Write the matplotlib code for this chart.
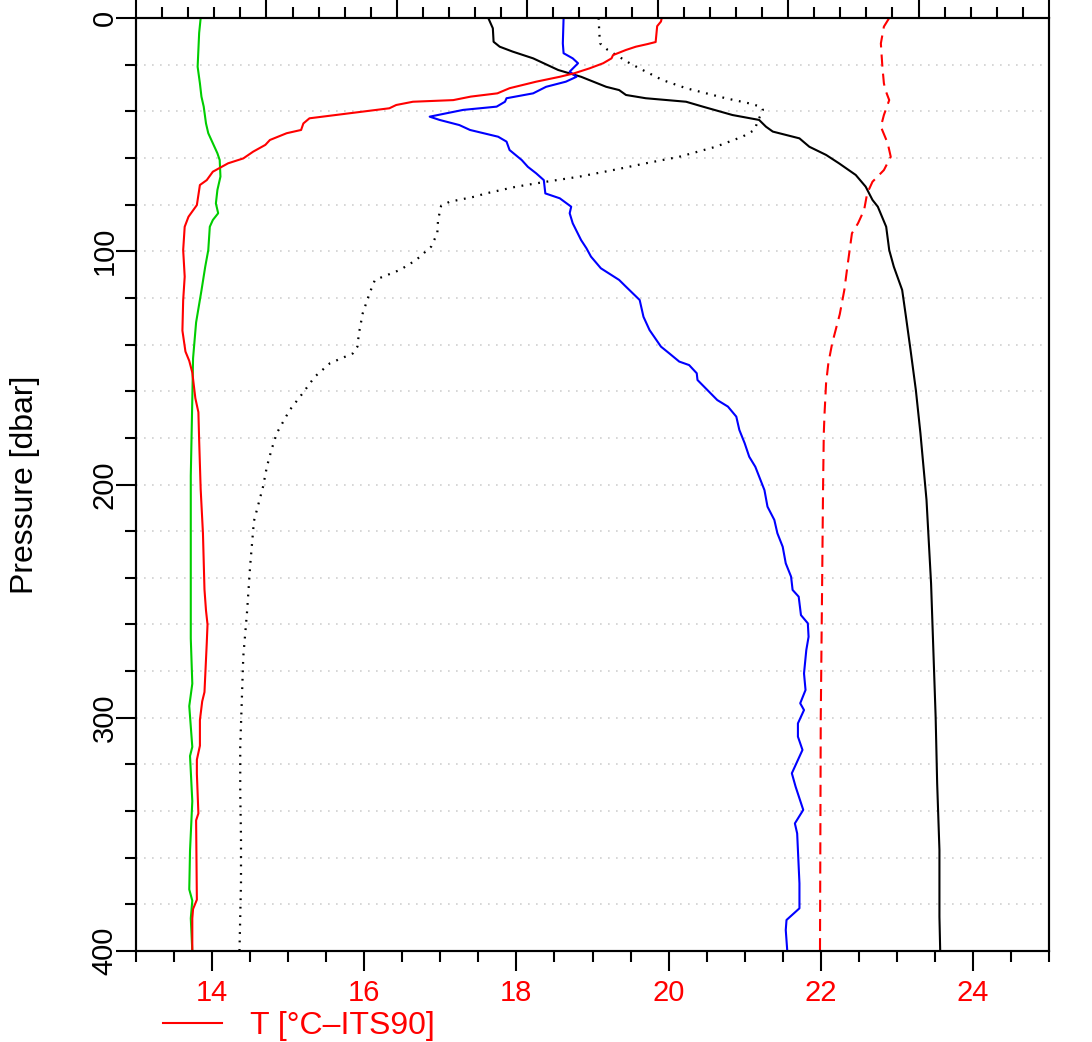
import matplotlib
matplotlib.use('Agg')
import matplotlib.pyplot as plt
from matplotlib.ticker import MultipleLocator, NullFormatter

plt.rcParams['font.family'] = ['Liberation Sans', 'DejaVu Sans']

# temperature profile (bottom axis)
p_temp = [0, 1.5, 3.5, 10.3, 11.2, 12.3, 13.7, 15.9, 17.3, 19.4, 21.6, 23.7, 25.2, 27.3, 30.1, 32.3,
          33.7, 35.2, 35.9, 37.3, 38.7, 43.0, 45.2, 48.0, 49.4, 52.3, 54.4, 57.3, 60.2, 62.3, 65.9,
          69.5, 71.6, 80.2, 85.2, 89.5, 99.5, 110.9, 121, 134, 143, 147, 152, 163, 169, 181, 202,
          221, 245, 254, 260, 268, 289, 293, 301, 312, 318, 324, 341, 344, 378, 382, 386, 400]
temp = [19.91, 19.90, 19.85, 19.83, 19.72, 19.57, 19.44, 19.27, 19.25, 19.14, 18.96, 18.76, 18.57,
        18.26, 17.91, 17.75, 17.40, 17.17, 16.64, 16.42, 16.33, 15.28, 15.20, 15.17, 14.98, 14.76,
        14.70, 14.54, 14.41, 14.21, 14.01, 13.93, 13.84, 13.80, 13.69, 13.64, 13.62, 13.64, 13.62,
        13.61, 13.65, 13.70, 13.74, 13.78, 13.82, 13.83, 13.85, 13.88, 13.90, 13.92, 13.94, 13.93,
        13.90, 13.87, 13.84, 13.84, 13.80, 13.80, 13.82, 13.79, 13.80, 13.75, 13.74, 13.74]

# the other profiles, as positions read along the bottom scale
p_green = [0, 6.4, 13.7, 20.9, 28, 33.7, 38, 45.2, 49.4, 53.7, 58, 60.9, 68, 73.7, 79.5, 83.7, 86.6,
           89.5, 99.5, 106.6, 116.9, 130.5, 145.9, 163.4, 196.3, 235, 266, 285.4, 295, 312.5, 316.4,
           335.8, 357, 373.6, 378.4, 386, 400]
green = [13.85, 13.83, 13.82, 13.81, 13.84, 13.86, 13.89, 13.92, 13.95, 14.01, 14.07, 14.10, 14.11,
         14.07, 14.05, 14.08, 14.01, 13.97, 13.95, 13.91, 13.86, 13.79, 13.75, 13.74, 13.72, 13.72,
         13.72, 13.74, 13.70, 13.74, 13.71, 13.74, 13.71, 13.70, 13.74, 13.72, 13.74]

p_blue = [0, 10.9, 15.1, 17.3, 19.4, 23.0, 25.2, 27.3, 29.5, 32.3, 34.4, 35.9, 38.0, 39.4, 42.3, 43.7,
          45.9, 48.0, 50.9, 53.0, 56.6, 60.9, 63.8, 66.6, 69.5, 75.2, 77.3, 80.9, 83.7, 88.0, 95.2,
          98.7, 102.3, 107.3, 112.3, 115.2, 120.9, 128.1, 133.8, 140.9, 143.8, 147.3, 148.8, 152.3,
          155.2, 159.5, 163.8, 166.6, 170.9, 176.6, 182.3, 188.1, 192.4, 202.4, 209.5, 215.2, 220.9,
          226.7, 233.8, 239.5, 245.2, 248.1, 256, 259.5, 265.3, 271, 281, 288.1, 293.8, 296.7, 302.4,
          308.1, 313.8, 323.8, 329.6, 339.5, 345.3, 349.6, 371, 381.7, 386.7, 391, 400]
blue = [18.62, 18.61, 18.62, 18.74, 18.81, 18.70, 18.79, 18.65, 18.39, 18.22, 17.87, 17.85, 17.74,
        17.30, 16.86, 16.99, 17.25, 17.39, 17.76, 17.87, 17.91, 18.07, 18.15, 18.26, 18.36, 18.38,
        18.57, 18.72, 18.70, 18.74, 18.85, 18.92, 18.98, 19.11, 19.35, 19.44, 19.62, 19.67, 19.75,
        19.90, 20.01, 20.14, 20.27, 20.37, 20.38, 20.51, 20.64, 20.78, 20.89, 20.93, 21.00, 21.06,
        21.14, 21.26, 21.30, 21.39, 21.43, 21.50, 21.54, 21.61, 21.63, 21.71, 21.74, 21.83, 21.84,
        21.81, 21.78, 21.80, 21.73, 21.78, 21.70, 21.70, 21.76, 21.62, 21.67, 21.77, 21.66, 21.69,
        21.72, 21.72, 21.55, 21.54, 21.56]

p_black = [0, 4.4, 10.2, 12.3, 14.4, 17.3, 22.3, 25.2, 29.5, 30.9, 33.0, 34.4, 35.9, 38.0, 41.6, 43.7,
           46.6, 48.7, 51.6, 55.2, 58.7, 62.3, 67.3, 72.3, 78.0, 80.9, 89.5, 99.5, 106.6, 116.6,
           128.1, 142.3, 159.5, 178, 206.6, 242.4, 271, 299.6, 328.1, 356.7, 385.3, 400]
black = [17.63, 17.69, 17.70, 17.78, 17.95, 18.22, 18.55, 18.85, 19.18, 19.35, 19.44, 19.70, 20.23,
         20.45, 20.84, 21.19, 21.28, 21.37, 21.72, 21.85, 22.07, 22.24, 22.46, 22.59, 22.68, 22.75,
         22.86, 22.90, 22.96, 23.07, 23.12, 23.18, 23.25, 23.31, 23.39, 23.45, 23.48, 23.51, 23.53,
         23.56, 23.56, 23.57]

p_dash = [0, 3.7, 10.9, 20.9, 28, 30.9, 35.2, 41.6, 46.6, 53.7, 59.5, 65.2, 70.2, 75.2, 82.3, 88,
          92.3, 106.6, 116.6, 127, 139.5, 148, 156.6, 169.5, 178, 202.4, 236.7, 300, 400]
dash = [22.90, 22.83, 22.79, 22.81, 22.83, 22.85, 22.90, 22.83, 22.79, 22.88, 22.92, 22.83, 22.68,
        22.61, 22.57, 22.49, 22.41, 22.35, 22.31, 22.25, 22.15, 22.10, 22.07, 22.05, 22.04, 22.03,
        22.02, 22.00, 21.99]

p_dot = [0, 6.6, 10.9, 13.7, 19.4, 22.3, 26.6, 30.1, 34.4, 36.6, 38.0, 39.4, 44.4, 48.0, 50.9, 55.2,
         59.5, 62.3, 65.2, 68.0, 70.2, 72.3, 75.2, 76.6, 78.8, 80.6, 86.6, 92.3, 98.0, 103.8, 108.0,
         112.3, 118.0, 126.6, 135.2, 140.9, 143.8, 148.0, 153.8, 160.9, 168.1, 178.0, 185.2, 192.4,
         200.9, 215.7, 235.0, 254.4, 273.8, 293.2, 312.6, 331.9, 351.3, 370.7, 400]
dot = [19.08, 19.09, 19.10, 19.20, 19.49, 19.66, 19.92, 20.23, 20.75, 21.06, 21.21, 21.24, 21.17,
       21.13, 20.97, 20.62, 20.14, 19.70, 19.27, 18.83, 18.39, 18.00, 17.60, 17.45, 17.12, 17.01,
       16.97, 16.96, 16.88, 16.68, 16.47, 16.14, 16.07, 15.98, 15.93, 15.91, 15.85, 15.55, 15.35,
       15.19, 15.02, 14.85, 14.78, 14.72, 14.67, 14.55, 14.50, 14.46, 14.41, 14.39, 14.37, 14.37,
       14.38, 14.38, 14.36]

fig = plt.figure(figsize=(10.92, 10.42), dpi=100)
ax = fig.add_axes([136 / 1092, 1 - 951 / 1042, 913 / 1092, 933 / 1042])

ax.grid(axis='y', which='both', color='#d0d0d0', linestyle=(0, (1, 3.8)), linewidth=1.2)
ax.set_axisbelow(True)

ax.plot(green, p_green, color='#00cd00', lw=1.5)
ax.plot(dot, p_dot, color='black', lw=1.6, linestyle=(0, (0.8, 3.0)))
ax.plot(black, p_black, color='black', lw=1.5)
ax.plot(blue, p_blue, color='blue', lw=1.5)
ax.plot(dash, p_dash, color='red', lw=1.5, linestyle=(0, (5.8, 3.4)))
line_t, = ax.plot(temp, p_temp, color='red', lw=1.5)

ax.set_xlim(13, 25)
ax.set_ylim(400, 0)

ax.xaxis.set_major_locator(MultipleLocator(2))
ax.xaxis.set_minor_locator(MultipleLocator(0.5))
ax.yaxis.set_major_locator(MultipleLocator(100))
ax.yaxis.set_minor_locator(MultipleLocator(20))

ax.tick_params(which='major', length=14.4, width=1.5, direction='out')
ax.tick_params(which='minor', length=7.8, width=1.5, direction='out')
ax.tick_params(axis='x', labelsize=21, labelcolor='red', pad=5.5)
ax.tick_params(axis='y', labelsize=21, pad=-2, labelrotation=90)
for lab in ax.get_yticklabels():
    lab.set_va('center')
ax.tick_params(top=False, right=False)

ax.set_ylabel('Pressure [dbar]', fontsize=23)
ax.yaxis.set_label_coords(-0.1047, 0.5)

for s in ax.spines.values():
    s.set_linewidth(1.5)

# second scale along the top, its labels fall outside the figure
ax2 = ax.twiny()
ax2.set_xlim(0, 7)
ax2.xaxis.set_major_locator(MultipleLocator(1))
ax2.xaxis.set_minor_locator(MultipleLocator(0.2))
ax2.xaxis.set_major_formatter(NullFormatter())
ax2.tick_params(which='major', length=14.4, width=1.5, direction='out')
ax2.tick_params(which='minor', length=7.8, width=1.5, direction='out')
for s in ax2.spines.values():
    s.set_linewidth(1.5)

fig.legend(handles=[line_t], labels=['T [°C–ITS90]'], loc='center left',
           bbox_to_anchor=(163 / 1092, 1 - 1026 / 1042), frameon=False, fontsize=23,
           handlelength=1.84, handletextpad=0.87, borderpad=0, borderaxespad=0,
           labelcolor='red')

fig.savefig('out.png', dpi=100)
